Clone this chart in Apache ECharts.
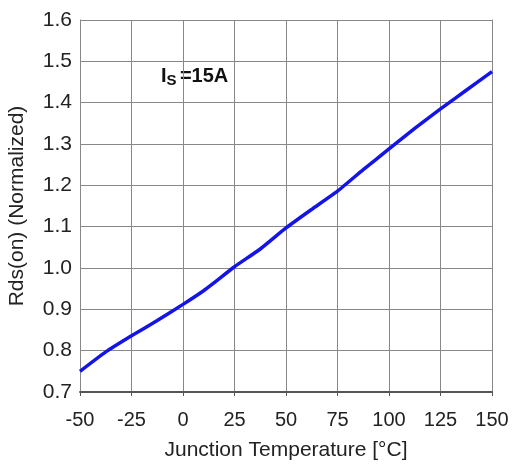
<!DOCTYPE html>
<html>
<head>
<meta charset="utf-8">
<script src="https://cdn.jsdelivr.net/npm/echarts@6/dist/echarts.min.js"></script>
<style>html,body{margin:0;padding:0;background:#fff}#c{width:515px;height:464px}</style>
</head>
<body>
<div id="c"></div>
<script>
var temps = [-50, -37.5, -25, -12.5, 0, 10, 15, 25, 37.5, 50, 62.5, 75, 87.5, 100, 112.5, 125, 137.5, 150];
var rdsOn = [0.750, 0.797, 0.836, 0.873, 0.912, 0.945, 0.964, 1.003, 1.046, 1.097, 1.142, 1.186, 1.238, 1.288, 1.338, 1.385, 1.430, 1.475];
var xTitle = 'Junction Temperature [°C]';
var yTitle = 'Rds(on) (Normalized)';

var chart = echarts.init(document.getElementById('c'));
var font = 'Liberation Sans, Arial, sans-serif';
chart.setOption({
  animation: false,
  grid: {left: 80, right: 23, top: 20, bottom: 72, outerBoundsMode: 'none', containLabel: false},
  xAxis: {
    type: 'value', min: -50, max: 150, interval: 25,
    name: xTitle, nameLocation: 'middle', nameGap: 48,
    nameTextStyle: {fontFamily: font, fontSize: 21, color: '#222'},
    axisLine: {onZero: false, lineStyle: {color: '#555', width: 2}},
    axisTick: {show: true, length: 4, lineStyle: {color: '#555'}},
    axisLabel: {fontFamily: font, fontSize: 20, color: '#222', margin: 18},
    splitLine: {show: true, lineStyle: {color: '#888', width: 1}}
  },
  yAxis: [{
    type: 'value', min: 0.7, max: 1.6, interval: 0.1,
    name: yTitle, nameLocation: 'middle', nameGap: 52,
    nameTextStyle: {fontFamily: font, fontSize: 21, color: '#222'},
    axisLine: {show: true, onZero: false, lineStyle: {color: '#888', width: 1}},
    axisTick: {show: false},
    axisLabel: {fontFamily: font, fontSize: 21, color: '#222', margin: 8,
      formatter: function (v) { return v.toFixed(1); }},
    splitLine: {show: true, lineStyle: {color: '#888', width: 1}}
  }, {
    type: 'value', min: 0.7, max: 1.6, interval: 0.1, position: 'right',
    axisLine: {show: true, onZero: false, lineStyle: {color: '#888', width: 1}},
    axisTick: {show: false}, axisLabel: {show: false}, splitLine: {show: false}
  }],
  series: [{
    type: 'line', smooth: 0.15, symbol: 'none', yAxisIndex: 0,
    lineStyle: {color: '#1414e6', width: 3.5},
    data: temps.map(function (t, i) { return [t, rdsOn[i]]; })
  }],
  graphic: [{
    type: 'text', left: 161, top: 66,
    style: {
      rich: {
        i: {fontFamily: font, fontSize: 20, fontWeight: 'bold', fill: '#111'},
        s: {fontFamily: font, fontSize: 15, fontWeight: 'bold', fill: '#111', padding: [9, 0, 0, 0]}
      },
      text: '{i|I}{s|S} {i|=15A}'
    }
  }]
});
</script>
</body>
</html>
